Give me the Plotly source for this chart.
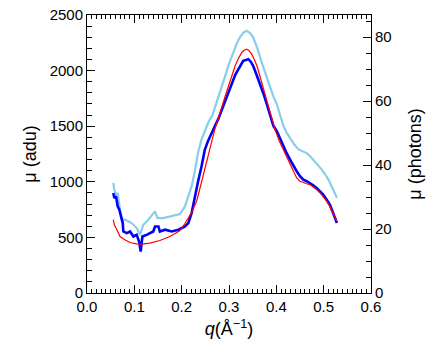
import plotly.graph_objects as go

# q in 1/Angstrom, mu in adu
q_light = [0.0556, 0.0577, 0.0613, 0.0649, 0.0697, 0.0733, 0.0803, 0.0944, 0.105, 0.112,
           0.119, 0.1295, 0.1437, 0.149, 0.161, 0.179, 0.1965, 0.207, 0.214, 0.221,
           0.228, 0.235, 0.242, 0.256, 0.265, 0.274, 0.283, 0.292, 0.300, 0.309,
           0.316, 0.323, 0.330, 0.337, 0.344, 0.351, 0.360, 0.369, 0.378, 0.387,
           0.394, 0.401, 0.408, 0.415, 0.422, 0.429, 0.438, 0.447, 0.455, 0.464,
           0.471, 0.478, 0.487, 0.496, 0.503, 0.510, 0.519, 0.528]
mu_light = [990, 930, 884, 900, 749, 659, 659, 629, 584, 523,
            614, 659, 734, 674, 674, 689, 710, 779, 869, 959,
            1100, 1270, 1381, 1531, 1600, 1712, 1830, 1952, 2060, 2163,
            2240, 2299, 2340, 2358, 2340, 2299, 2200, 2073, 1955, 1840,
            1765, 1697, 1600, 1501, 1440, 1396, 1335, 1291, 1275, 1258,
            1232, 1200, 1158, 1110, 1068, 1020, 940, 855]

q_blue = [0.0556, 0.0577, 0.0613, 0.0649, 0.0683, 0.0719, 0.0755, 0.0768, 0.0840, 0.0909,
          0.0980, 0.105, 0.110, 0.1135, 0.117, 0.126, 0.133, 0.140, 0.1437, 0.151,
          0.154, 0.165, 0.179, 0.193, 0.207, 0.214, 0.221, 0.228, 0.235, 0.242,
          0.249, 0.256, 0.263, 0.270, 0.277, 0.285, 0.292, 0.299, 0.306, 0.313,
          0.320, 0.325, 0.330, 0.336, 0.341, 0.346, 0.351, 0.358, 0.366, 0.373,
          0.380, 0.387, 0.394, 0.401, 0.408, 0.415, 0.422, 0.429, 0.436, 0.443,
          0.450, 0.457, 0.464, 0.471, 0.478, 0.485, 0.492, 0.499, 0.506, 0.513,
          0.520, 0.528]
mu_blue = [900, 855, 869, 779, 749, 689, 629, 553, 539, 553,
           508, 523, 463, 373, 508, 523, 539, 553, 598, 598,
           553, 569, 553, 569, 598, 629, 719, 880, 1010, 1140,
           1290, 1370, 1441, 1500, 1561, 1650, 1742, 1815, 1893, 1960,
           2013, 2055, 2088, 2095, 2103, 2080, 2043, 1965, 1877, 1790,
           1697, 1600, 1501, 1456, 1385, 1320, 1255, 1200, 1145, 1095,
           1050, 1020, 1005, 990, 968, 945, 915, 884, 840, 794,
           720, 629]

q_red = [0.0556, 0.0577, 0.063, 0.0697, 0.080, 0.091, 0.105, 0.1156, 0.133, 0.154,
         0.175, 0.196, 0.207, 0.221, 0.232, 0.242, 0.249, 0.256, 0.263, 0.270,
         0.278, 0.285, 0.292, 0.299, 0.306, 0.313, 0.320, 0.327, 0.332, 0.337,
         0.342, 0.348, 0.353, 0.359, 0.366, 0.373, 0.380, 0.387, 0.397, 0.406,
         0.415, 0.422, 0.429, 0.436, 0.443, 0.450, 0.457, 0.464, 0.471, 0.478,
         0.485, 0.492, 0.499, 0.506, 0.513, 0.520, 0.528]
mu_red = [659, 614, 569, 508, 478, 454, 442, 439, 448, 472,
          508, 560, 625, 725, 830, 1000, 1130, 1261, 1366, 1471,
          1578, 1681, 1772, 1862, 1955, 2043, 2110, 2163, 2183, 2193,
          2180, 2148, 2105, 2043, 1940, 1832, 1727, 1622, 1471, 1370,
          1290, 1228, 1170, 1100, 1035, 1005, 990, 982, 975, 955,
          930, 902, 869, 828, 779, 715, 643]

photon_top = 86.9

fig = go.Figure()
fig.add_trace(go.Scatter(x=q_light, y=mu_light, mode="lines",
                         line=dict(color="#87ceeb", width=2.2), showlegend=False))
fig.add_trace(go.Scatter(x=q_blue, y=mu_blue, mode="lines",
                         line=dict(color="#0000ff", width=2.6), showlegend=False))
fig.add_trace(go.Scatter(x=q_red, y=mu_red, mode="lines",
                         line=dict(color="#ff0000", width=1.2), showlegend=False))
# empty trace so the photon axis is drawn
fig.add_trace(go.Scatter(x=[None], y=[None], yaxis="y2", showlegend=False, hoverinfo="skip"))

font = dict(family="Liberation Sans, Arial, sans-serif", size=15, color="black")

# page body has an 8px margin, so the figure margins are shifted by that much
fig.update_layout(
    width=436, height=343,
    margin=dict(l=79, r=73, t=7, b=58),
    plot_bgcolor="white", paper_bgcolor="white",
    font=font,
    xaxis=dict(range=[0, 0.6], dtick=0.1, tickformat=".1f", automargin=False,
               showgrid=False, zeroline=False,
               showline=True, linecolor="black", linewidth=1, mirror="ticks",
               ticks="inside", ticklen=8, tickcolor="black",
               minor=dict(dtick=0.01, ticks="inside", ticklen=4, tickcolor="black"),
               title=dict(text="<i>q</i>(Å<sup>−1</sup>)", standoff=8)),
    yaxis=dict(range=[0, 2500], dtick=500, automargin=False, ticklabeloverflow="allow",
               showgrid=False, zeroline=False,
               showline=True, linecolor="black", linewidth=1,
               ticks="inside", ticklen=8, tickcolor="black",
               minor=dict(dtick=100, ticks="inside", ticklen=5, tickcolor="black"),
               title=dict(text="μ (adu)", standoff=8)),
    yaxis2=dict(range=[0, photon_top], dtick=20, overlaying="y", side="right",
                automargin=False, ticklabeloverflow="allow",
                showgrid=False, zeroline=False,
                showline=True, linecolor="black", linewidth=1,
                ticks="inside", ticklen=8, tickcolor="black",
                minor=dict(dtick=5, ticks="inside", ticklen=5, tickcolor="black"),
                title=dict(text="μ (photons)", standoff=17)),
)

fig.write_html("out.html")
